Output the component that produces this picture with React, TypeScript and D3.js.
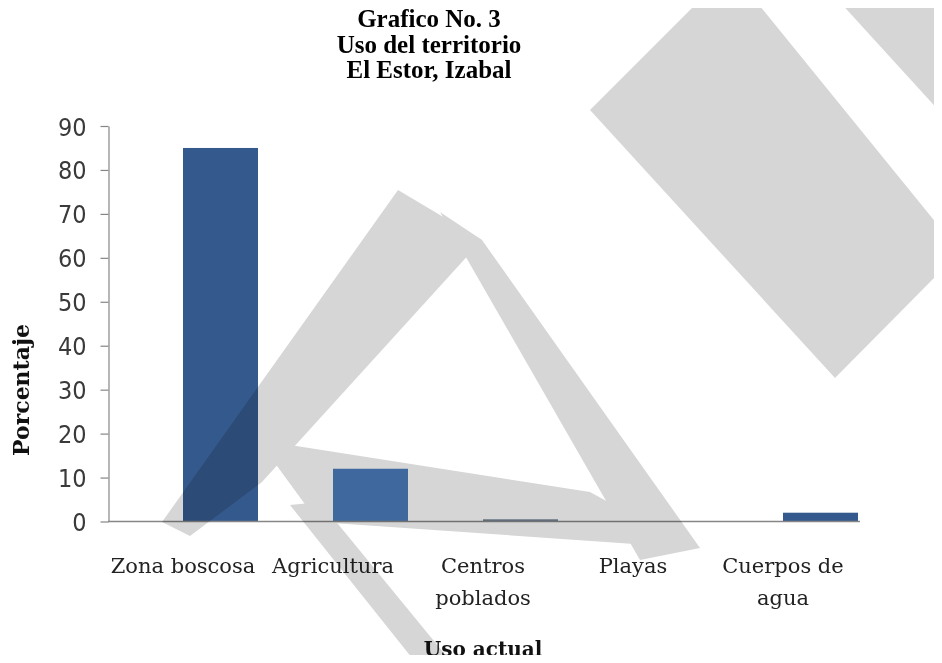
import { useRef, useEffect } from 'react';
import * as d3 from 'd3';

const categories = ['Zona boscosa', 'Agricultura', 'Centros poblados', 'Playas', 'Cuerpos de agua'];
const categoryLines = [['Zona boscosa'], ['Agricultura'], ['Centros', 'poblados'], ['Playas'], ['Cuerpos de', 'agua']];
const values = [85, 12, 0.5, 0, 2];
const barColors = ['#34598c', '#4a7cbc', '#6f8196', '#34598c', '#34598c'];
const yTicks = [0, 10, 20, 30, 40, 50, 60, 70, 80, 90];
const titleLines = ['Grafico No. 3', 'Uso del territorio', 'El Estor, Izabal'];

// watermark "LNP" over the chart, rough outline
const watermark = [
  [[398, 190], [482, 240], [262, 482], [190, 536], [162, 522]],
  [[258, 440], [590, 492], [692, 548], [318, 522]],
  [[290, 505], [320, 502], [452, 663], [416, 663]],
  [[440, 212], [482, 240], [700, 548], [640, 560]],
  [[590, 110], [700, 0], [755, 0], [942, 230], [942, 270], [835, 378]],
  [[838, 0], [942, 0], [942, 114]],
];

export default function App() {
  const ref = useRef<SVGSVGElement>(null);

  useEffect(() => {
    if (!ref.current) return;
    const width = 942;
    const height = 663;

    const svg = d3.select(ref.current);
    svg.selectAll('*').remove();
    svg.attr('width', width).attr('height', height);

    svg.append('rect').attr('width', width).attr('height', height).attr('fill', '#fff');

    const x = d3.scaleBand().domain(categories).range([108, 858]);
    const y = d3.scaleLinear().domain([0, 90]).range([521.5, 126]);
    const bw = x.bandwidth();

    // title
    svg.append('g')
      .selectAll('text')
      .data(titleLines)
      .enter()
      .append('text')
      .attr('x', 429)
      .attr('y', (d, i) => 27 + i * 25.5)
      .attr('text-anchor', 'middle')
      .style('font-family', '"Liberation Serif", "Times New Roman", serif')
      .style('font-weight', 'bold')
      .style('font-size', '25px')
      .attr('fill', '#000')
      .text((d) => d);

    // bars
    svg.append('g')
      .selectAll('rect')
      .data(values)
      .enter()
      .append('rect')
      .attr('x', (d, i) => x(categories[i])! + bw / 2)
      .attr('y', (d) => y(d))
      .attr('width', bw / 2)
      .attr('height', (d) => y(0) - y(d))
      .attr('fill', (d, i) => barColors[i]);

    // y axis
    const yAxis = svg.append('g').attr('transform', 'translate(108.5,0)')
      .call(d3.axisLeft(y).tickValues(yTicks).tickSize(8).tickSizeOuter(0).tickPadding(14));
    yAxis.select('.domain').attr('stroke', '#868686').attr('stroke-width', 1.2);
    yAxis.selectAll('.tick line').attr('stroke', '#868686').attr('stroke-width', 1.2);
    yAxis.selectAll('.tick text')
      .attr('fill', '#3a3a3a')
      .attr('dy', '0.36em')
      .style('font-family', '"Liberation Sans Narrow", "DejaVu Sans Condensed", sans-serif')
      .style('font-weight', '300')
      .style('font-size', '25px');

    // x axis line
    svg.append('line')
      .attr('x1', 108).attr('x2', x.range()[1] + 2)
      .attr('y1', y(0)).attr('y2', y(0))
      .attr('stroke', '#868686').attr('stroke-width', 1.5);

    // category labels
    const lab = svg.append('g')
      .selectAll('text')
      .data(categoryLines)
      .enter()
      .append('text')
      .attr('text-anchor', 'middle')
      .attr('transform', (d, i) => `translate(${x(categories[i])! + bw / 2},573)`)
      .style('font-family', '"DejaVu Serif", serif')
      .style('font-size', '21px')
      .attr('fill', '#222');
    lab.selectAll('tspan')
      .data((d) => d)
      .enter()
      .append('tspan')
      .attr('x', 0)
      .attr('y', (d, i) => i * 32)
      .text((d) => d);

    // axis titles
    svg.append('text')
      .attr('transform', 'translate(29,390) rotate(-90)')
      .attr('text-anchor', 'middle')
      .style('font-family', '"DejaVu Serif", serif')
      .style('font-weight', 'bold')
      .style('font-size', '22px')
      .attr('fill', '#111')
      .text('Porcentaje');

    svg.append('text')
      .attr('x', (x.range()[0] + x.range()[1]) / 2)
      .attr('y', 656)
      .attr('text-anchor', 'middle')
      .style('font-family', '"DejaVu Serif", serif')
      .style('font-weight', 'bold')
      .style('font-size', '20px')
      .attr('fill', '#111')
      .text('Uso actual');

    // watermark: opaque shapes in one group, the group multiplied over the chart
    svg.append('g')
      .style('mix-blend-mode', 'multiply')
      .selectAll('polygon')
      .data(watermark)
      .enter()
      .append('polygon')
      .attr('points', (d) => d.map((p) => p.join(',')).join(' '))
      .attr('fill', '#d6d6d6');
  }, []);

  return (
    <div style={{ margin: -8 }}>
      <svg ref={ref} style={{ display: 'block' }} />
    </div>
  );
}
